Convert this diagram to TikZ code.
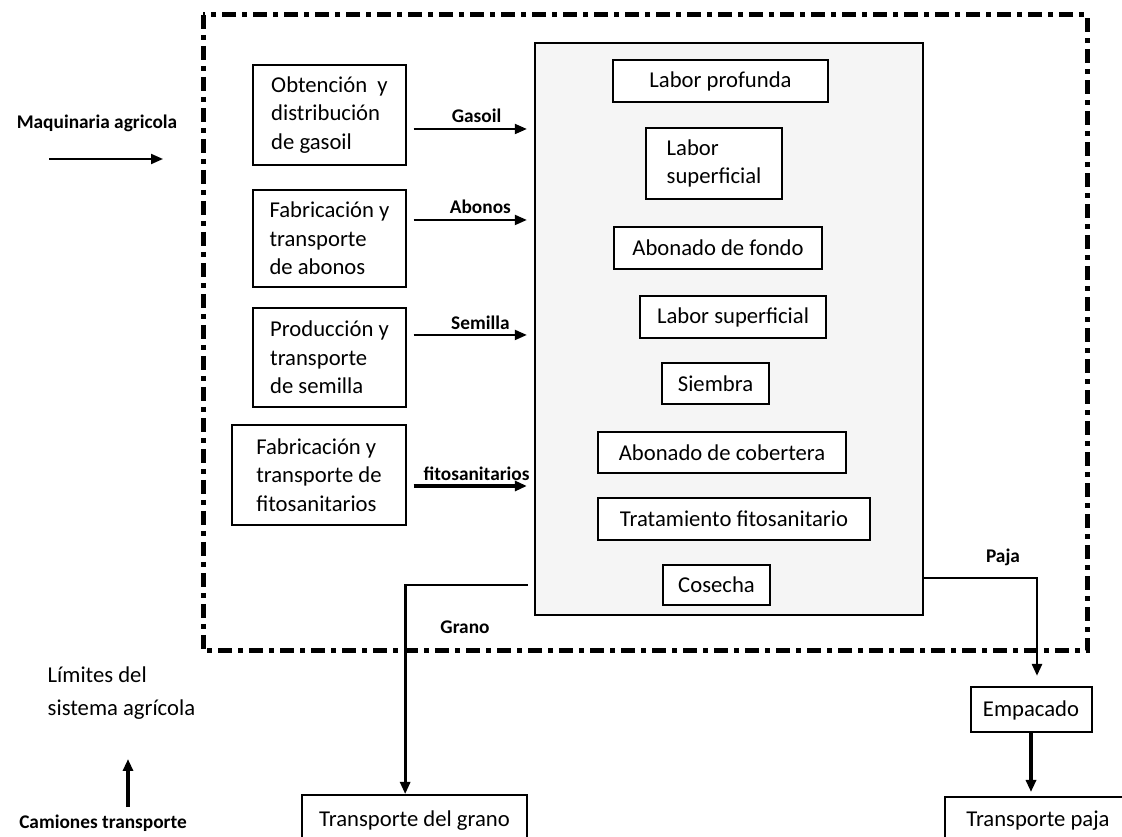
\documentclass[tikz,border=0pt]{standalone}
\usepackage{fontspec}
\setmainfont{Carlito}
\usetikzlibrary{positioning, arrows.meta, calc}

\begin{document}
\begin{tikzpicture}[
        x=0.75pt, y=-0.75pt,
        box/.style={draw, line width=1.5pt, rectangle, align=center, inner sep=2pt, font=\fontsize{17}{21.5}\selectfont},
        lbox/.style={box, align=left},
        etapa/.style={box, fill=white},
        lbl/.style={font=\bfseries\fontsize{14.5}{16}\selectfont, inner sep=1pt},
        arrow/.style={-{Triangle[length=9pt,width=7.5pt]}, line width=1.5pt},
        limite/.style={line width=3.75pt, dash pattern=on 10.5pt off 4.5pt on 3.75pt off 4.5pt}
    ]
    \useasboundingbox (0,0) rectangle (1122,837);

    % Limites del sistema
    \draw[limite] (203,15) rectangle (1087,651);

    % Entradas
    \node[lbox, minimum width=114.75pt, minimum height=75pt] (gasoil) at (329.5,115) {Obtención~ y\\distribución\\de gasoil};
    \node[lbox, minimum width=114.75pt, minimum height=72.75pt] (abonos) at (329.5,238.5) {Fabricación y\\transporte\\de abonos};
    \node[lbox, minimum width=114.75pt, minimum height=74.25pt] (semilla) at (329.5,357.5) {Producción y\\transporte\\de semilla};
    \node[lbox, minimum width=130.5pt, minimum height=75pt] (fito) at (319,475) {Fabricación y\\transporte de\\fitosanitarios};

    % Operaciones de cultivo
    \node[draw, line width=1.5pt, fill=black!4, minimum width=291pt, minimum height=429pt] (proc) at (728.5,329) {};
    \node[etapa, minimum width=161.25pt, minimum height=31.5pt] (lprof) at (720.5,81) {Labor profunda};
    \node[etapa, align=left, minimum width=102pt, minimum height=53.25pt] (lsup) at (714,163.5) {Labor\\superficial};
    \node[etapa, minimum width=156pt, minimum height=31.5pt] (afondo) at (718,248) {Abonado de fondo};
    \node[etapa, minimum width=139.5pt, minimum height=31.5pt] (lsupb) at (733,317) {Labor superficial};
    \node[etapa, minimum width=80.25pt, minimum height=30.75pt] (siembra) at (715.5,383.5) {Siembra};
    \node[etapa, minimum width=186pt, minimum height=30.75pt] (acob) at (722,452.5) {Abonado de cobertera};
    \node[etapa, minimum width=204pt, minimum height=31.5pt] (trat) at (734,519) {Tratamiento fitosanitario};
    \node[etapa, minimum width=80.25pt, minimum height=30pt] (cosecha) at (716.5,585) {Cosecha};

    % Salidas
    \node[box, minimum width=168.75pt, minimum height=39pt] (grano) at (414.5,821) {Transporte del grano};
    \node[box, minimum width=90.75pt, minimum height=33.75pt] (emp) at (1031,710) {Empacado};
    \node[box, minimum width=139.5pt, minimum height=36pt] (tpaja) at (1038,821) {Transporte paja};

    % Textos sueltos
    \node[lbl] (maq) at (97,123) {Maquinaria agricola};
    \node[lbl] (camiones) at (103,823) {Camiones transporte};
    \node[align=left, anchor=west, font=\fontsize{17}{25}\selectfont] (lim) at (43,693) {Límites del\\sistema agrícola};
    \coordinate (maqA) at (49,159);
    \coordinate (maqB) at (163,159);
    \coordinate (camA) at (128,807);
    \coordinate (camB) at (128,759);
    \draw[arrow] (maqA) -- (maqB);
    \draw[arrow, line width=3pt] (camA) -- (camB);

    % Flechas de entrada
    \path ([yshift=-10.5pt]gasoil.east) coordinate (g1)
          ([yshift=13.9pt]abonos.east) coordinate (a1)
          ([yshift=16.9pt]semilla.east) coordinate (s1)
          ([yshift=-8.25pt]fito.east) coordinate (f1);
    \draw[arrow, shorten <=5pt, shorten >=5pt] (g1) -- node[lbl, above=3pt, pos=0.55] {Gasoil} (g1 -| proc.west);
    \draw[arrow, shorten <=5pt, shorten >=5pt] (a1) -- node[lbl, above=3pt, pos=0.58] {Abonos} (a1 -| proc.west);
    \draw[arrow, shorten <=5pt, shorten >=5pt] (s1) -- node[lbl, above=2pt, pos=0.58] {Semilla} (s1 -| proc.west);
    \draw[arrow, line width=2.5pt, shorten <=5pt, shorten >=5pt] (f1) -- node[lbl, above=2pt, pos=0.55] {fitosanitarios} (f1 -| proc.west);

    % Flechas de salida
    \draw[arrow, line width=2pt, shorten <=4.5pt] (cosecha.west -| proc.west) -| ([xshift=-7pt]grano.north);
    \node[lbl] (lgrano) at (465,627) {Grano};
    \draw[arrow, line width=2pt] ($(cosecha.east -| proc.east)+(0,-7)$) -| ([xshift=4.5pt]emp.north) [shorten >=8pt];
    \node[lbl] (lpaja) at (1003,557) {Paja};
    \draw[arrow, line width=3pt, shorten >=3pt] (emp.south) -- (emp.south |- tpaja.north);

\end{tikzpicture}
\end{document}
